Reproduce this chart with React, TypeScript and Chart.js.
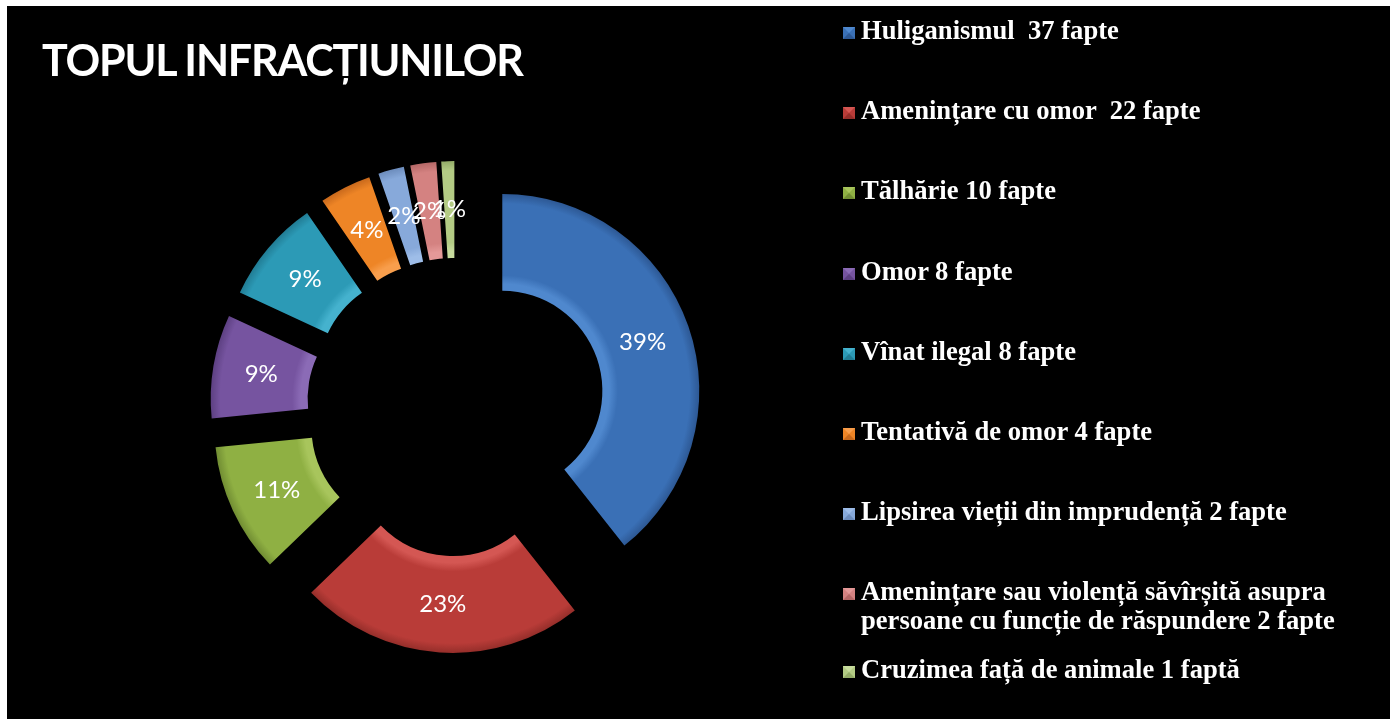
import React, { useEffect, useRef } from "react";
import { Chart, registerables } from "chart.js";

Chart.register(...registerables);

const titleText = "TOPUL INFRACȚIUNILOR";

const categories = [
  "Huliganismul  37 fapte",
  "Amenințare cu omor  22 fapte",
  "Tălhărie 10 fapte",
  "Omor 8 fapte",
  "Vînat ilegal 8 fapte",
  "Tentativă de omor 4 fapte",
  "Lipsirea vieții din imprudență 2 fapte",
  "Amenințare sau violență săvîrșită asupra\npersoane cu funcție de răspundere 2 fapte",
  "Cruzimea față de animale 1 faptă",
];

const values = [37, 22, 10, 8, 8, 4, 2, 2, 1];

const baseColors = ["#3A70B6", "#B93C38", "#8FB043", "#7654A0", "#2C9AB6", "#EE8526", "#87A9DA", "#D48281", "#B3CB84"];
const lightColors = ["#4F88CE", "#D45753", "#A8C55C", "#8B6BB6", "#45B2CE", "#F89E4C", "#9EBDE8", "#E49998", "#C8DC9E"];
const darkColors = ["#2D5894", "#952E2A", "#718D33", "#5D4082", "#217C94", "#C8691C", "#6C8CBC", "#B46766", "#94AC68"];

const EXPLODE = 49;

function sliceFill(c: any) {
  const i = c.dataIndex ?? 0;
  const chart = c.chart;
  const area = chart.chartArea;
  const ctrl: any = chart.getDatasetMeta(0).controller;
  if (!area || !ctrl || !ctrl.outerRadius) return baseColors[i];
  const cx = (area.left + area.right) / 2;
  const cy = (area.top + area.bottom) / 2;
  const g = chart.ctx.createRadialGradient(cx, cy, ctrl.innerRadius, cx, cy, ctrl.outerRadius);
  g.addColorStop(0, lightColors[i]);
  g.addColorStop(0.07, lightColors[i]);
  g.addColorStop(0.16, baseColors[i]);
  g.addColorStop(0.9, baseColors[i]);
  g.addColorStop(1, darkColors[i]);
  return g;
}

const explodePlugin = {
  id: "explodeLabels",
  beforeDatasetDraw(chart: any, args: any) {
    const meta = chart.getDatasetMeta(args.index);
    const ctx = chart.ctx;
    const data = chart.data.datasets[args.index].data as number[];
    const total = data.reduce((a, b) => a + b, 0);
    meta.data.forEach((arc: any) => {
      const mid = (arc.startAngle + arc.endAngle) / 2;
      ctx.save();
      ctx.translate(Math.cos(mid) * EXPLODE, Math.sin(mid) * EXPLODE);
      arc.draw(ctx);
      ctx.restore();
    });
    ctx.save();
    ctx.fillStyle = "#ffffff";
    ctx.font = "24px Lato, 'Open Sans', sans-serif";
    ctx.textAlign = "center";
    ctx.textBaseline = "middle";
    meta.data.forEach((arc: any, i: number) => {
      const mid = (arc.startAngle + arc.endAngle) / 2;
      const r = EXPLODE + (arc.innerRadius + arc.outerRadius) / 2;
      const label = Math.round((data[i] / total) * 100) + "%";
      ctx.fillText(label, arc.x + Math.cos(mid) * r, arc.y + Math.sin(mid) * r);
    });
    ctx.restore();
    return false;
  },
};

function Marker({ i }: { i: number }) {
  return (
    <div
      style={{
        width: 0,
        height: 0,
        borderTop: `6.5px solid ${lightColors[i]}`,
        borderLeft: `6.5px solid ${baseColors[i]}`,
        borderRight: `6.5px solid ${baseColors[i]}`,
        borderBottom: `6.5px solid ${darkColors[i]}`,
        marginTop: 11,
        marginRight: 6,
        flex: "0 0 auto",
      }}
    />
  );
}

export default function App() {
  const canvasRef = useRef<HTMLCanvasElement | null>(null);

  useEffect(() => {
    if (!canvasRef.current) return;
    const chart = new Chart(canvasRef.current, {
      type: "doughnut",
      data: {
        labels: categories,
        datasets: [
          {
            data: values,
            backgroundColor: sliceFill as any,
            borderWidth: 0,
            radius: 197,
            cutout: "50.8%",
          } as any,
        ],
      },
      options: {
        responsive: false,
        animation: false,
        layout: { padding: { left: 0, right: 485, top: 89, bottom: 0 } },
        plugins: {
          legend: { display: false },
          tooltip: { enabled: false },
          title: { display: false },
        },
        events: [],
      },
      plugins: [explodePlugin],
    });
    let alive = true;
    if ((document as any).fonts?.load) {
      (document as any).fonts.load("24px Lato").then(() => {
        if (alive) chart.update();
      });
    }
    return () => {
      alive = false;
      chart.destroy();
    };
  }, []);

  return (
    <div
      style={{
        position: "absolute",
        left: 7,
        top: 6,
        width: 1383,
        height: 713,
        background: "#000000",
        overflow: "hidden",
      }}
    >
      <canvas ref={canvasRef} width={1383} height={713} style={{ position: "absolute", left: 0, top: 0 }} />
      <div
        style={{
          position: "absolute",
          left: 35,
          top: 28,
          color: "#ffffff",
          fontFamily: "Lato, 'Open Sans', sans-serif",
          fontWeight: 700,
          fontSize: 43,
          letterSpacing: "-1.2px",
          lineHeight: "52px",
          whiteSpace: "nowrap",
        }}
      >
        {titleText}
      </div>
      {categories.map((label, i) => {
        const top = 10 + (i < 8 ? i * 80.2 : 7 * 80.2 + 78);
        return (
          <div
            key={i}
            style={{
              position: "absolute",
              left: 836,
              top,
              display: "flex",
              alignItems: "flex-start",
              color: "#ffffff",
              fontFamily: "'Liberation Serif', 'Times New Roman', serif",
              fontWeight: 700,
              fontSize: 26.6,
              lineHeight: "28.5px",
              whiteSpace: "pre",
            }}
          >
            <Marker i={i} />
            <div>{label}</div>
          </div>
        );
      })}
    </div>
  );
}
